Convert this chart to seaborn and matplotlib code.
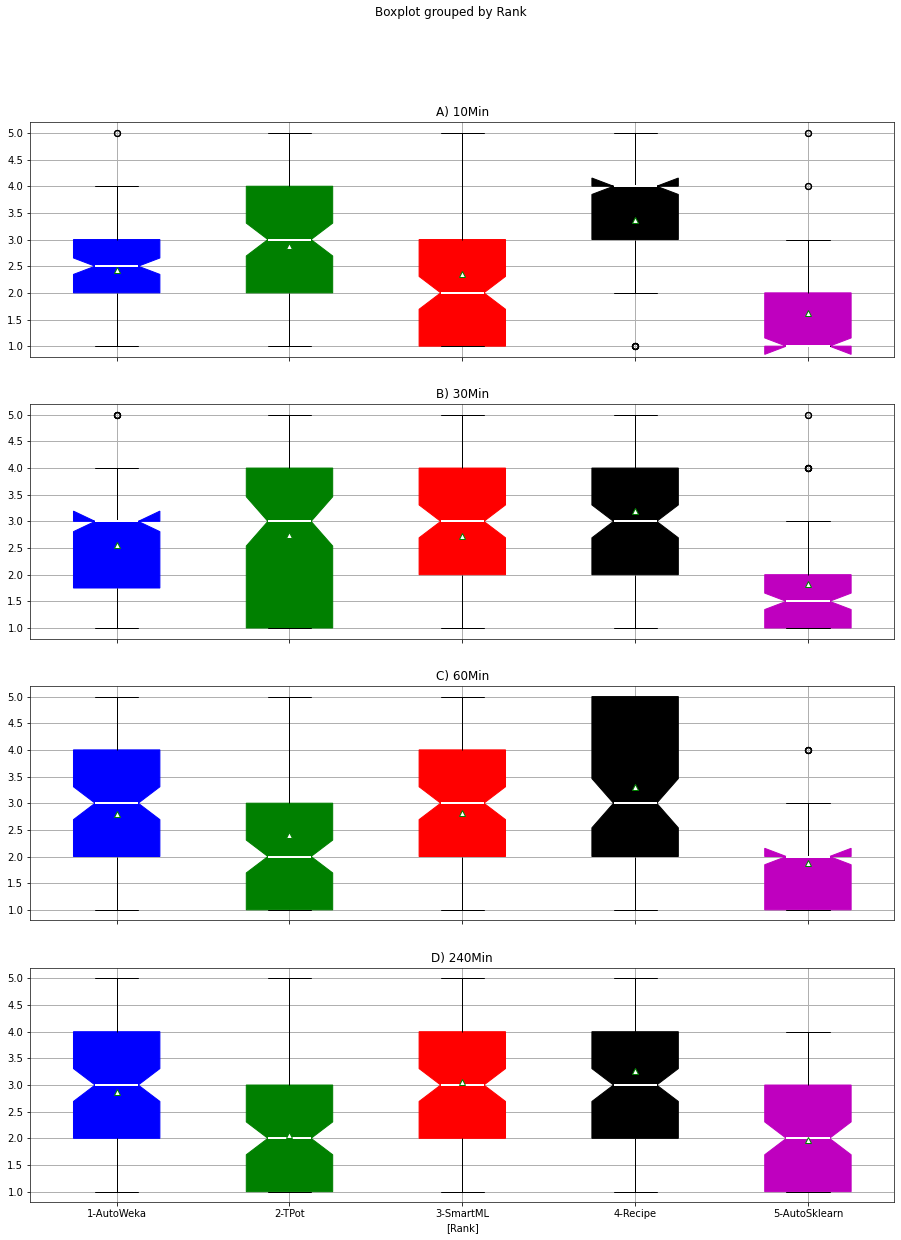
import numpy as np
import pandas as pd
import seaborn as sns
import matplotlib.pyplot as plt

# tools on the x axis and the four time budgets (one panel each)
tools = ['1-AutoWeka', '2-TPot', '3-SmartML', '4-Recipe', '5-AutoSklearn']
colors = ['b', 'g', 'r', 'k', 'm']
panel_titles = ['A) 10Min', 'B) 30Min', 'C) 60Min', 'D) 240Min']
rank_values = [1, 2, 3, 4, 5]

counts_10min = [[22, 30, 40, 10, 2],
                [20, 25, 25, 15, 19],
                [40, 25, 15, 11, 13],
                [5, 15, 30, 44, 10],
                [59, 31, 10, 2, 2]]
counts_30min = [[26, 18, 41, 15, 4],
                [30, 15, 25, 20, 14],
                [22, 28, 25, 15, 14],
                [10, 20, 30, 27, 17],
                [52, 29, 15, 6, 2]]
counts_60min = [[15, 30, 27, 25, 7],
                [40, 25, 15, 5, 19],
                [15, 30, 25, 27, 7],
                [20, 20, 15, 6, 43],
                [30, 60, 10, 4, 0]]
counts_240min = [[15, 25, 30, 27, 7],
                 [50, 25, 10, 10, 9],
                 [10, 25, 30, 27, 12],
                 [10, 20, 25, 31, 18],
                 [50, 25, 12, 17, 0]]

all_counts = [counts_10min, counts_30min, counts_60min, counts_240min]


def counts_to_frame(counts):
    rows = []
    for tool, cnt in zip(tools, counts):
        vals = np.repeat(rank_values, cnt)
        rows.append(pd.DataFrame({'Rank': tool, 'Value': vals}))
    return pd.concat(rows, ignore_index=True)


sns.set_style('whitegrid', {'axes.edgecolor': '#262626',
                            'grid.color': '#b0b0b0',
                            'text.color': 'black',
                            'axes.labelcolor': 'black',
                            'xtick.color': 'black',
                            'ytick.color': 'black',
                            'xtick.bottom': True,
                            'ytick.left': True,
                            'axes.axisbelow': True})
plt.rcParams['font.family'] = ['DejaVu Sans']
plt.rcParams['xtick.major.size'] = 3.5
plt.rcParams['ytick.major.size'] = 3.5

fig, axes = plt.subplots(4, 1, figsize=(901 / 72, 1240 / 72), dpi=72, sharex=True)
fig.subplots_adjust(left=0.0336, right=0.9926, top=0.9014, bottom=0.0304, hspace=0.2015)

for ax, counts, title in zip(axes, all_counts, panel_titles):
    df = counts_to_frame(counts)
    sns.boxplot(data=df, x='Rank', y='Value', hue='Rank', order=tools, hue_order=tools,
                palette=colors, saturation=1, legend=False, width=0.5, linewidth=1,
                linecolor='black', fliersize=6, ax=ax, notch=True, showmeans=True,
                meanprops=dict(marker='^', markerfacecolor='white',
                               markeredgecolor='green', markersize=6),
                medianprops=dict(color='white', linewidth=2),
                whiskerprops=dict(color='black'),
                capprops=dict(color='black'),
                flierprops=dict(marker='o', markerfacecolor='none',
                                markeredgecolor='black', markeredgewidth=1.2))
    for p in ax.patches:
        p.set_edgecolor(p.get_facecolor())
    ax.set_title(title, fontsize=12, color='black')
    ax.set_xlabel('')
    ax.set_ylabel('')
    ax.set_ylim(0.8, 5.2)
    ax.set_yticks(np.arange(1.0, 5.01, 0.5))
    ax.set_yticklabels([f'{v:.1f}' for v in np.arange(1.0, 5.01, 0.5)])
    ax.set_xlim(-0.5, 4.5)
    ax.grid(True, axis='both', color='#b0b0b0', linewidth=1)
    for s in ax.spines.values():
        s.set_color('#262626')

axes[-1].set_xlabel('[Rank]', color='black')
fig.suptitle('Boxplot grouped by Rank', y=1 - 6 / 1240, va='top', fontsize=12, color='black')

plt.savefig('out.png', dpi=72)
